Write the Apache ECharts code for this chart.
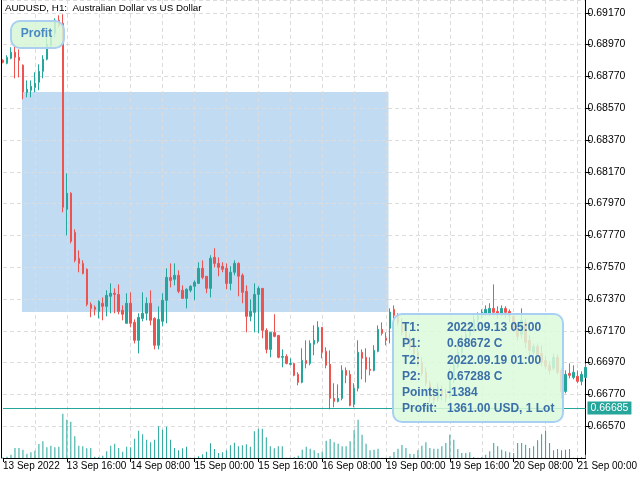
<!DOCTYPE html>
<html><head><meta charset="utf-8">
<script src="https://cdn.jsdelivr.net/npm/echarts@6/dist/echarts.min.js"></script>
<style>html,body{margin:0;padding:0;background:#fff;}#c{width:640px;height:480px;}</style>
</head><body><div id="c"></div>
<script>
// ---- data ----
const days = ['13 Sep','14 Sep','15 Sep','16 Sep','19 Sep','20 Sep','21 Sep'];
const hoursPerDay = [24,24,24,24,24,24,3];
const firstLabel = '13 Sep 2022';

const openP = [
0.68871,0.68852,0.68884,0.68922,0.68890,0.68840,0.68670,0.68683,0.68701,0.68733,
0.68802,0.68878,0.68966,0.69041,0.69123,0.69104,0.67934,0.68035,0.67789,0.67626,
0.67594,0.67557,0.67336,0.67318,0.67292,0.67343,0.67324,0.67387,0.67406,0.67399,
0.67299,0.67217,0.67343,0.67223,0.67110,0.67248,0.67280,0.67343,0.67248,0.67079,
0.67230,0.67362,0.67506,0.67494,0.67519,0.67425,0.67374,0.67425,0.67450,0.67468,
0.67563,0.67513,0.67437,0.67632,0.67594,0.67576,0.67563,0.67468,0.67538,0.67594,
0.67519,0.67418,0.67261,0.67286,0.67399,0.67437,0.67173,0.67053,0.67160,0.67141,
0.67003,0.67009,0.66959,0.66965,0.66896,0.66846,0.66984,0.66965,0.67085,0.67104,
0.67192,0.67041,0.66959,0.66745,0.66726,0.66745,0.66921,0.66896,0.66707,0.66808,
0.67035,0.67003,0.66928,0.66921,0.67041,0.67179,0.67123,0.67186,0.67305,0.67261,
0.67223,0.67173,0.67123,0.67079,0.67035,0.66972,0.66909,0.66840,0.66764,0.66745,
0.66802,0.66770,0.66758,0.66858,0.66947,0.67035,0.67097,0.67141,0.67179,0.67242,
0.67267,0.67274,0.67280,0.67311,0.67292,0.67280,0.67311,0.67292,0.67261,0.67192,
0.67148,0.67223,0.67110,0.67035,0.67072,0.67028,0.66984,0.66953,0.66934,0.67003,
0.66921,0.66789,0.66902,0.66877,0.66884,0.66852,0.66877];
const closeP = [
0.68859,0.68890,0.68922,0.68890,0.68871,0.68672,0.68689,0.68708,0.68727,0.68802,
0.68878,0.68972,0.69041,0.69123,0.69091,0.67947,0.68035,0.67733,0.67613,0.67594,
0.67531,0.67336,0.67311,0.67305,0.67355,0.67324,0.67393,0.67406,0.67399,0.67292,
0.67274,0.67343,0.67217,0.67110,0.67255,0.67280,0.67343,0.67236,0.67079,0.67242,
0.67362,0.67506,0.67487,0.67519,0.67418,0.67374,0.67431,0.67450,0.67475,0.67563,
0.67506,0.67437,0.67626,0.67594,0.67569,0.67557,0.67468,0.67538,0.67594,0.67513,
0.67412,0.67261,0.67292,0.67399,0.67437,0.67173,0.67053,0.67160,0.67135,0.67003,
0.67009,0.66965,0.66965,0.66890,0.66846,0.66984,0.66965,0.67091,0.67110,0.67192,
0.67035,0.66953,0.66745,0.66726,0.66745,0.66921,0.66890,0.66701,0.66808,0.67035,
0.66997,0.66928,0.66921,0.67047,0.67179,0.67154,0.67110,0.67288,0.67267,0.67223,
0.67160,0.67110,0.67066,0.67028,0.66965,0.66902,0.66840,0.66752,0.66733,0.66808,
0.66764,0.66752,0.66858,0.66953,0.67035,0.67104,0.67148,0.67186,0.67242,0.67267,
0.67286,0.67305,0.67311,0.67286,0.67280,0.67311,0.67286,0.67267,0.67186,0.67135,
0.67236,0.67097,0.67047,0.67072,0.67022,0.66972,0.66947,0.66921,0.67003,0.66909,
0.66789,0.66896,0.66890,0.66909,0.66852,0.66896,0.66940];
const lowP = [
0.68852,0.68846,0.68878,0.68758,0.68764,0.68626,0.68638,0.68638,0.68670,0.68683,
0.68758,0.68871,0.68947,0.69016,0.69079,0.67915,0.67770,0.67720,0.67601,0.67538,
0.67525,0.67324,0.67255,0.67267,0.67248,0.67236,0.67261,0.67280,0.67280,0.67274,
0.67236,0.67217,0.67192,0.67091,0.67028,0.67230,0.67236,0.67204,0.67053,0.67053,
0.67198,0.67217,0.67443,0.67456,0.67406,0.67374,0.67311,0.67412,0.67362,0.67468,
0.67494,0.67406,0.67380,0.67569,0.67513,0.67538,0.67431,0.67425,0.67519,0.67387,
0.67343,0.67160,0.67230,0.67160,0.67154,0.67123,0.67028,0.67003,0.67129,0.66997,
0.66940,0.66959,0.66953,0.66884,0.66827,0.66840,0.66934,0.66953,0.67016,0.67091,
0.66997,0.66934,0.66676,0.66689,0.66720,0.66733,0.66840,0.66695,0.66689,0.66789,
0.66865,0.66846,0.66890,0.66915,0.67035,0.67141,0.67079,0.67091,0.67248,0.67204,
0.67141,0.67091,0.67047,0.67003,0.66947,0.66884,0.66821,0.66720,0.66707,0.66726,
0.66733,0.66720,0.66745,0.66840,0.66934,0.67016,0.67072,0.67110,0.67160,0.67223,
0.67248,0.67261,0.67261,0.67261,0.67248,0.67261,0.67248,0.67223,0.67160,0.67110,
0.67123,0.67060,0.67016,0.67003,0.66997,0.66947,0.66928,0.66896,0.66921,0.66896,
0.66745,0.66777,0.66871,0.66865,0.66840,0.66827,0.66871];
const highP = [
0.68878,0.68903,0.68953,0.68972,0.68940,0.68846,0.68745,0.68745,0.68796,0.68846,
0.68903,0.69016,0.69060,0.69135,0.69154,0.69161,0.68160,0.68041,0.67808,0.67676,
0.67613,0.67563,0.67349,0.67330,0.67362,0.67380,0.67425,0.67468,0.67437,0.67462,
0.67330,0.67406,0.67412,0.67242,0.67280,0.67412,0.67380,0.67425,0.67255,0.67324,
0.67406,0.67563,0.67594,0.67594,0.67550,0.67456,0.67437,0.67456,0.67487,0.67601,
0.67613,0.67513,0.67645,0.67689,0.67632,0.67601,0.67594,0.67576,0.67613,0.67601,
0.67531,0.67456,0.67368,0.67468,0.67450,0.67437,0.67186,0.67160,0.67274,0.67141,
0.67053,0.67022,0.66997,0.66965,0.66909,0.67060,0.67110,0.67110,0.67204,0.67230,
0.67192,0.67066,0.67047,0.66840,0.66833,0.66953,0.66940,0.66921,0.66840,0.67110,
0.67053,0.67060,0.67003,0.67079,0.67204,0.67223,0.67160,0.67311,0.67330,0.67280,
0.67248,0.67198,0.67154,0.67129,0.67066,0.67003,0.66940,0.66858,0.66814,0.66840,
0.66827,0.66808,0.66934,0.66997,0.67079,0.67141,0.67186,0.67217,0.67267,0.67286,
0.67305,0.67330,0.67343,0.67462,0.67324,0.67330,0.67324,0.67305,0.67280,0.67223,
0.67311,0.67248,0.67141,0.67091,0.67091,0.67079,0.67016,0.66978,0.67028,0.67022,
0.66934,0.66921,0.66965,0.66953,0.66921,0.66915,0.66965];
const tickVolume = [
2,4,10,30,30,25,13,17,22,42, 50,32,37,32,34,133,115,109,65,37,
35,29,30,4,3,7,20,37,43,30, 19,34,32,58,82,71,55,47,55,95,
85,94,55,30,23,29,34,1,1,5, 11,19,44,27,15,17,23,38,46,35,
38,41,34,80,88,88,62,35,29,35, 35,1,1,3,7,25,34,28,23,15,
19,52,57,47,43,35,35,50,83,115, 70,43,23,25,28,1,1,5,18,28,
39,30,13,12,23,37,47,30,28,28, 35,45,70,55,27,15,15,17,3,1,
3,10,20,45,35,25,20,17,15,45, 45,40,30,35,53,71,82,45,23,27,
23,25,27,1,1,3,10];

const priceTicks = {min: 0.66370, step: 0.00200};
const currentPrice = 0.66685;
const t1Index = 5, p1 = 0.68672, t2Index = 97, p2 = 0.67288;
const infoLabels = ['T1:','P1:','T2:','P2:','Points:','Profit:'];
const infoValues = ['2022.09.13 05:00','0.68672 C','2022.09.19 01:00','0.67288 C','-1384','1361.00 USD, 1 Lot'];
const titleText = 'AUDUSD, H1:  Australian Dollar vs US Dollar';

// ---- build ----
const categories = [];
days.forEach((d, di) => {
  for (let h = 0; h < hoursPerDay[di]; h++) {
    categories.push(d + ' ' + String(h).padStart(2,'0') + ':00');
  }
});
const candleData = openP.map((o,i) => [o, closeP[i], lowP[i], highP[i]]);

const UP = '#26a69a', DOWN = '#ef5350';
const FONT = 'Liberation Sans';
const chart = echarts.init(document.getElementById('c'), null, {renderer:'canvas'});

const TOP = {zlevel: 5, z: 100};
function boxText(t, x, y) {
  return Object.assign({type: 'text', x: x, y: y,
    style: {text: t, font: 'bold 12px "Liberation Sans"', fill: '#3b6fa8', textVerticalAlign: 'middle'}}, TOP);
}
const overlay = [
  Object.assign({type: 'text', left: 5, top: 3,
    style: {text: titleText, font: '9.8px "Liberation Sans"', fill: '#000'}}, TOP),
  Object.assign({type: 'rect', left: 10, top: 20, shape: {x: 0, y: 0, width: 53, height: 27, r: 9},
    style: {fill: 'rgba(214,246,214,0.85)', stroke: '#aacff0', lineWidth: 2}}, TOP),
  Object.assign({type: 'text', x: 36.5, y: 34, style: {text: 'Profit', font: 'bold 12px "Liberation Sans"',
    fill: '#4a88c4', textAlign: 'center', textVerticalAlign: 'middle'}}, {zlevel: 5, z: 101}),
  Object.assign({type: 'rect', left: 392, top: 313, shape: {x: 0, y: 0, width: 170, height: 108, r: 9},
    style: {fill: 'rgba(220,250,220,0.85)', stroke: '#a8d0f5', lineWidth: 2}}, TOP)
];
infoLabels.forEach((t, i) => { const e = boxText(t, 402, 328 + i * 16.1); e.z = 101; overlay.push(e); });
infoValues.forEach((t, i) => { const e = boxText(t, 447, 328 + i * 16.1); e.z = 101; overlay.push(e); });

const option = {
  animation: false,
  backgroundColor: '#ffffff',
  grid: {left: 3, right: 53, top: 0, bottom: 22},
  xAxis: {
    type: 'category', data: categories, boundaryGap: false, z: 1,
    axisLine: {show: true, lineStyle: {color: '#000', width: 1}},
    axisTick: {show: true, length: 4, lineStyle: {color: '#000'}, interval: (i) => i % 16 === 0},
    axisLabel: {
      interval: (i) => i % 16 === 0, align: 'left', margin: 3,
      fontFamily: FONT, fontSize: 10, color: '#000',
      formatter: (v, i) => i === 0 ? firstLabel : v
    },
    splitLine: {show: true, interval: (i) => i % 8 === 0 && i > 0,
      lineStyle: {color: '#dcdcdc', type: [4,3], width: 1}}
  },
  yAxis: [{
    type: 'value', position: 'right', scale: true, z: 1, offset: 0,
    min: priceTicks.min, max: 0.692505, interval: priceTicks.step,
    axisLine: {show: true, lineStyle: {color: '#000', width: 1}},
    axisTick: {show: true, length: 5, lineStyle: {color: '#000'}},
    axisLabel: {showMinLabel: false, showMaxLabel: false, margin: 2,
      fontFamily: FONT, fontSize: 10.5, color: '#000',
      formatter: (v) => v.toFixed(5)},
    splitLine: {show: true, lineStyle: {color: '#dcdcdc', type: [4,3], width: 1}}
  }, {
    type: 'value', position: 'left', offset: 1.5, min: 0, max: 1375, z: 1,
    axisLine: {show: true, lineStyle: {color: '#000', width: 1}},
    axisTick: {show: false}, axisLabel: {show: false}, splitLine: {show: false}
  }],
  series: [
    {
      type: 'custom', z: 0, silent: true, coordinateSystem: 'cartesian2d',
      encode: {x: [0,2], y: [1,3]},
      data: [[t1Index, p1, t2Index, p2]],
      renderItem: (params, api) => {
        const a = api.coord([api.value(0), api.value(1)]);
        const b = api.coord([api.value(2), api.value(3)]);
        return {type: 'rect', shape: {x: a[0]-1, y: a[1], width: b[0]-a[0]-0.5, height: b[1]-a[1]},
          style: {fill: '#c1dcf2'}};
      }
    },
    {
      type: 'bar', yAxisIndex: 1, z: 2, barWidth: 1, silent: true,
      data: tickVolume, itemStyle: {color: UP}
    },
    {
      type: 'candlestick', z: 3, zlevel: 0, barWidth: 2, clip: false, silent: true,
      progressive: 0, large: false,
      data: candleData,
      itemStyle: {color: UP, color0: DOWN, borderColor: UP, borderColor0: DOWN, borderWidth: 1},
      markLine: {
        silent: true, symbol: 'none', animation: false, precision: 5,
        data: [{yAxis: currentPrice}],
        lineStyle: {color: UP, type: 'solid', width: 1},
        label: {position: 'end', distance: 2, formatter: (p) => Number(p.value).toFixed(5),
          backgroundColor: UP, color: '#fff', padding: [1,3,1,3],
          fontFamily: FONT, fontSize: 10.5}
      }
    }
  ],
  graphic: {elements: overlay}
};
chart.setOption(option);
</script>
</body></html>
